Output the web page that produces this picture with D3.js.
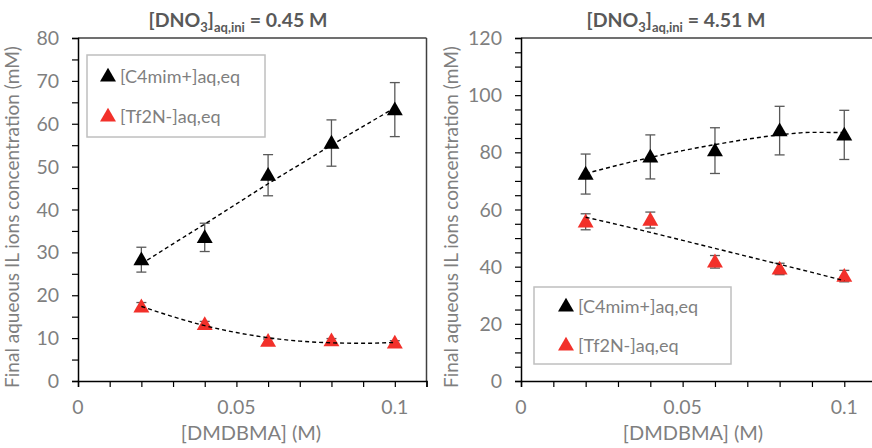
<!DOCTYPE html>
<html><head><meta charset="utf-8">
<script src="https://cdn.jsdelivr.net/npm/d3@7"></script>
<style>
body{margin:0;background:#fff;}
svg{display:block;font-family:Lato,"Open Sans",sans-serif;}
</style></head>
<body><svg id="c" width="872" height="448"></svg>
<script>
const xValues = [0.02, 0.04, 0.06, 0.08, 0.10];
// Left panel: [DNO3] = 0.45 M
const leftCation = [28.3, 33.5, 48.0, 55.5, 63.3];
const leftCationErr = [2.9, 3.3, 4.8, 5.4, 6.3];
const leftAnion = [17.3, 13.2, 9.3, 9.4, 8.9];
const leftAnionErr = [1.0, 0.7, 0.5, 0.5, 0.5];
// Right panel: [DNO3] = 4.51 M
const rightCation = [72.4, 78.4, 80.6, 87.6, 86.1];
const rightCationErr = [7.0, 7.7, 8.0, 8.5, 8.6];
const rightAnion = [55.7, 56.3, 41.7, 39.2, 36.7];
const rightAnionErr = [2.8, 2.8, 2.2, 2.0, 2.0];
// Trend lines
const trendX = [0.02, 0.03, 0.04, 0.05, 0.06, 0.07, 0.08, 0.09, 0.10];
const leftCationTrend = [27.3, 32.0, 36.6, 41.3, 46.0, 50.5, 55.0, 59.4, 63.7];
const leftAnionTrend = [17.4, 15.0, 12.9, 11.3, 10.1, 9.3, 8.9, 8.8, 9.0];
const rightCationTrend = [72.6, 75.5, 78.2, 80.6, 82.7, 84.6, 86.1, 87.0, 86.9];
const rightAnionTrend = [57.3, 54.7, 52.0, 49.2, 46.4, 43.6, 40.8, 38.0, 35.1];
const seriesNames = ["[C4mim+]aq,eq", "[Tf2N-]aq,eq"];
const xTickLabels = [0, 0.05, 0.1];
const leftYTicks = [0, 10, 20, 30, 40, 50, 60, 70, 80];
const rightYTicks = [0, 20, 40, 60, 80, 100, 120];

const svg = d3.select("#c");
const gray = "#7f7f7f", dark = "#595959", red = "#f2302a";
const tri = d3.symbol().type(d3.symbolTriangle).size(110);

function panel(o) {
  const x = d3.scaleLinear().domain([0, 0.11]).range([o.x0, o.x1]);
  const y = d3.scaleLinear().domain([0, o.ymax]).range([381, 38]);
  const g = svg.append("g");
  // frame top/right
  g.append("line").attr("x1", o.x0).attr("x2", o.x1).attr("y1", 38).attr("y2", 38).attr("stroke", "#404040").attr("stroke-width", 1.5);
  g.append("line").attr("x1", o.x1).attr("x2", o.x1).attr("y1", 38).attr("y2", 381).attr("stroke", "#404040").attr("stroke-width", 1.5);
  // x axis
  const xa = g.append("g").attr("transform", "translate(0,381)")
    .call(d3.axisBottom(x).tickValues(d3.range(0, 0.1101, 0.01)).tickSize(6).tickFormat(""));
  xa.select(".domain").attr("stroke", "#000").attr("stroke-width", 1.5);
  xa.selectAll(".tick line").attr("stroke", "#000").attr("stroke-width", 1.2);
  g.selectAll(".xl").data(xTickLabels).enter().append("text")
    .attr("x", d => x(d)).attr("y", 414).attr("text-anchor", "middle")
    .attr("font-size", 19.5).attr("fill", gray).text(d => d);
  // y axis
  const ya = g.append("g").attr("transform", `translate(${o.x0},0)`)
    .call(d3.axisLeft(y).tickValues(d3.range(0, o.ymax + 0.01, 5)).tickSize(6).tickFormat(""));
  ya.select(".domain").attr("stroke", "#000").attr("stroke-width", 1.5);
  ya.selectAll(".tick line").attr("stroke", "#000").attr("stroke-width", 1.2);
  g.selectAll(".yl").data(o.yTicks).enter().append("text")
    .attr("x", o.x0 - 19).attr("y", d => y(d) + 7).attr("text-anchor", "end")
    .attr("font-size", 19.5).attr("fill", gray).text(d => d);
  // axis titles
  g.append("text").attr("x", o.xtx).attr("y", 440)
    .attr("text-anchor", "middle").attr("font-size", 20).attr("fill", gray).text("[DMDBMA] (M)");
  g.append("text").attr("transform", `translate(${o.ytx},217) rotate(-90)`)
    .attr("text-anchor", "middle").attr("font-size", 19).attr("fill", gray)
    .text("Final aqueous IL ions concentration (mM)");
  // title
  const t = g.append("text").attr("x", o.tx).attr("y", 27).attr("text-anchor", "middle")
    .attr("font-size", 19.5).attr("font-weight", "bold").attr("fill", dark);
  t.append("tspan").text("[DNO");
  t.append("tspan").attr("font-size", 13).attr("dy", 5).text("3");
  t.append("tspan").attr("dy", -5).text("]");
  t.append("tspan").attr("font-size", 13).attr("dy", 5).text("aq,ini");
  t.append("tspan").attr("dy", -5).text(" = " + o.conc + " M");
  // series
  const sets = [
    { v: o.cat, e: o.catErr, c: "#000", tr: o.catTr },
    { v: o.an, e: o.anErr, c: red, tr: o.anTr }
  ];
  sets.forEach(s => {
    const eb = g.append("g");
    xValues.forEach((xv, i) => {
      const cx = x(xv), lo = y(s.v[i] - s.e[i]), hi = y(s.v[i] + s.e[i]);
      eb.append("line").attr("x1", cx).attr("x2", cx).attr("y1", lo).attr("y2", hi).attr("stroke", dark).attr("stroke-width", 1.3);
      [lo, hi].forEach(yy => eb.append("line").attr("x1", cx - 5).attr("x2", cx + 5).attr("y1", yy).attr("y2", yy).attr("stroke", dark).attr("stroke-width", 1.3));
    });
    g.selectAll(null).data(xValues).enter().append("path")
      .attr("d", tri).attr("fill", s.c)
      .attr("transform", (d, i) => `translate(${x(d)},${y(s.v[i]) + 1})`);
  });
  sets.forEach(s => {
    g.append("path").datum(trendX.map((xv, i) => [xv, s.tr[i]]))
      .attr("d", d3.line().x(d => x(d[0])).y(d => y(d[1])).curve(d3.curveMonotoneX))
      .attr("fill", "none").attr("stroke", "#000").attr("stroke-width", 1.4).attr("stroke-dasharray", "4,3");
  });
  // legend
  const L = o.leg;
  g.append("rect").attr("x", L.x).attr("y", L.y).attr("width", L.w).attr("height", L.h)
    .attr("fill", "#fff").attr("stroke", "#bfbfbf").attr("stroke-width", 1.5);
  [["#000", 0], [red, 1]].forEach(([c, i]) => {
    const yy = L.y + L.r0 + i * L.dy;
    g.append("path").attr("d", tri).attr("fill", c).attr("transform", `translate(${L.x + L.mx},${yy})`);
    g.append("text").attr("x", L.x + L.mx + 12).attr("y", yy + 6).attr("font-size", 18).attr("fill", gray).text(seriesNames[i]);
  });
}

panel({ x0: 78, x1: 426.5, ymax: 80, yTicks: leftYTicks, tx: 238, conc: "0.45", xtx: 251, ytx: 19,
  cat: leftCation, catErr: leftCationErr, an: leftAnion, anErr: leftAnionErr,
  catTr: leftCationTrend, anTr: leftAnionTrend,
  leg: { x: 87, y: 55, w: 178, h: 82, mx: 21, r0: 22, dy: 40 } });
panel({ x0: 521, x1: 876.6, ymax: 120, yTicks: rightYTicks, tx: 676, conc: "4.51", xtx: 693, ytx: 458,
  cat: rightCation, catErr: rightCationErr, an: rightAnion, anErr: rightAnionErr,
  catTr: rightCationTrend, anTr: rightAnionTrend,
  leg: { x: 534, y: 287, w: 197, h: 77, mx: 32, r0: 20, dy: 39 } });
</script></body></html>
